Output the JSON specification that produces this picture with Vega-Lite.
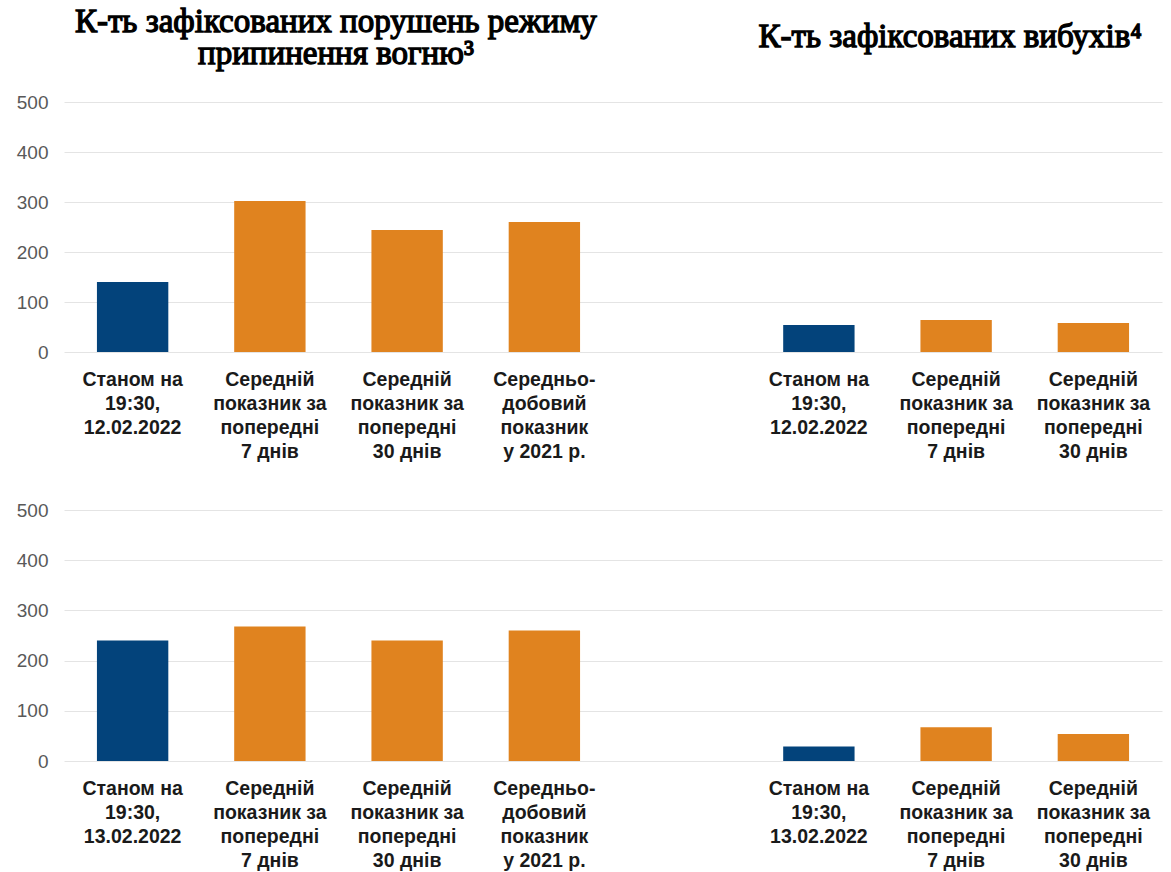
{
  "$schema": "https://vega.github.io/schema/vega-lite/v6.json",
  "padding": {"left": 16, "top": 6, "right": 3, "bottom": 2},
  "background": "white",
  "spacing": 40,
  "config": {
    "view": {"stroke": null},
    "axisY": {
      "values": [0, 100, 200, 300, 400, 500],
      "domain": false, "ticks": false, "title": null,
      "gridColor": "#e4e4e4", "gridWidth": 1,
      "labelFont": "Liberation Sans", "labelFontSize": 19, "labelColor": "#595959",
      "labelPadding": 16
    },
    "axisX": {
      "domain": false, "ticks": false, "title": null, "labelAngle": 0,
      "labelFont": "Liberation Sans", "labelFontSize": 19.5, "labelFontWeight": "bold",
      "labelColor": "#1a1a1a", "labelLineHeight": 24, "labelPadding": 18,
      "labelExpr": "split(datum.label, '|')"
    }
  },
  "vconcat": [
    {
      "width": 1098, "height": 250,
      "data": {"values": [
        {"label": "Станом на|19:30,|12.02.2022", "value": 140, "kind": "current"},
        {"label": "Середній|показник за|попередні|7 днів", "value": 302, "kind": "average"},
        {"label": "Середній|показник за|попередні|30 днів", "value": 244, "kind": "average"},
        {"label": "Середньо-|добовий|показник|у 2021 р.", "value": 260, "kind": "average"},
        {"label": "Станом на|19:30,|12.02.2022 ", "value": 54, "kind": "current"},
        {"label": "Середній|показник за|попередні|7 днів ", "value": 64, "kind": "average"},
        {"label": "Середній|показник за|попередні|30 днів ", "value": 58, "kind": "average"}
      ]},
      "layer": [
        {
          "mark": {"type": "bar"},
          "encoding": {
            "x": {"field": "label", "type": "nominal", "sort": null,
              "scale": {"domain": ["Станом на|19:30,|12.02.2022", "Середній|показник за|попередні|7 днів", "Середній|показник за|попередні|30 днів", "Середньо-|добовий|показник|у 2021 р.", " ", "Станом на|19:30,|12.02.2022 ", "Середній|показник за|попередні|7 днів ", "Середній|показник за|попередні|30 днів "],
                "paddingInner": 0.48, "paddingOuter": 0.24}},
            "y": {"field": "value", "type": "quantitative", "scale": {"domain": [0, 500]}},
            "color": {"field": "kind", "type": "nominal", "legend": null,
              "scale": {"domain": ["current", "average"], "range": ["#03437B", "#E0831F"]}}
          }
        },
        {
          "data": {"values": [
            {"label": "Середній|показник за|попередні|7 днів", "v": 640, "t": "К-ть зафіксованих порушень режиму|припинення вогню³"}
          ]},
          "mark": {"type": "text", "font": "Liberation Serif", "fontWeight": "normal", "fontSize": 33, "align": "center", "baseline": "alphabetic", "lineBreak": "|", "lineHeight": 32, "color": "#000000", "stroke": "#000000", "strokeWidth": 1.3, "dx": 66},
          "encoding": {
            "x": {"field": "label", "type": "nominal"},
            "y": {"field": "v", "type": "quantitative"},
            "text": {"field": "t"}
          }
        },
        {
          "data": {"values": [
            {"label": "Середній|показник за|попередні|7 днів ", "v": 610, "t": "К-ть зафіксованих вибухів⁴"}
          ]},
          "mark": {"type": "text", "font": "Liberation Serif", "fontWeight": "normal", "fontSize": 33, "align": "center", "baseline": "alphabetic", "color": "#000000", "stroke": "#000000", "strokeWidth": 1.3, "dx": -6},
          "encoding": {
            "x": {"field": "label", "type": "nominal"},
            "y": {"field": "v", "type": "quantitative"},
            "text": {"field": "t"}
          }
        }
      ]
    },
    {
      "width": 1098, "height": 251,
      "data": {"values": [
        {"label": "Станом на|19:30,|13.02.2022", "value": 240, "kind": "current"},
        {"label": "Середній|показник за|попередні|7 днів", "value": 268, "kind": "average"},
        {"label": "Середній|показник за|попередні|30 днів", "value": 240, "kind": "average"},
        {"label": "Середньо-|добовий|показник|у 2021 р.", "value": 260, "kind": "average"},
        {"label": "Станом на|19:30,|13.02.2022 ", "value": 29, "kind": "current"},
        {"label": "Середній|показник за|попередні|7 днів ", "value": 67, "kind": "average"},
        {"label": "Середній|показник за|попередні|30 днів ", "value": 54, "kind": "average"}
      ]},
      "mark": {"type": "bar"},
      "encoding": {
        "x": {"field": "label", "type": "nominal", "sort": null,
          "scale": {"domain": ["Станом на|19:30,|13.02.2022", "Середній|показник за|попередні|7 днів", "Середній|показник за|попередні|30 днів", "Середньо-|добовий|показник|у 2021 р.", " ", "Станом на|19:30,|13.02.2022 ", "Середній|показник за|попередні|7 днів ", "Середній|показник за|попередні|30 днів "],
            "paddingInner": 0.48, "paddingOuter": 0.24}},
        "y": {"field": "value", "type": "quantitative", "scale": {"domain": [0, 500]}},
        "color": {"field": "kind", "type": "nominal", "legend": null,
          "scale": {"domain": ["current", "average"], "range": ["#03437B", "#E0831F"]}}
      }
    }
  ]
}
